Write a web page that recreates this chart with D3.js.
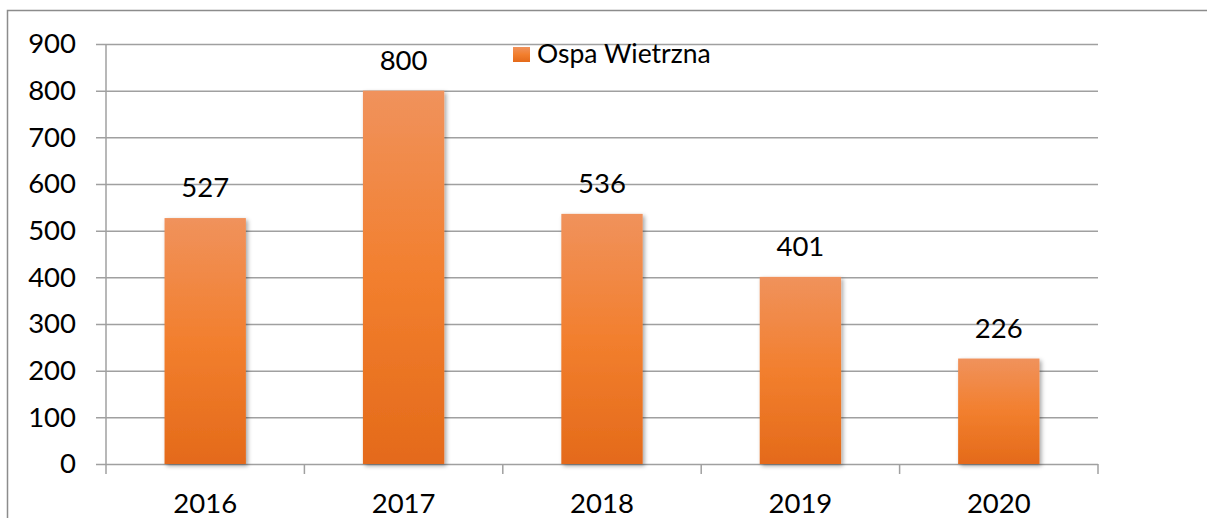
<!DOCTYPE html>
<html lang="pl">
    <head>
        <meta charset="utf-8">
        <title>Ospa Wietrzna</title>
        <script type="text/javascript" src="https://cdn.jsdelivr.net/npm/d3@7"></script>
        <style type="text/css">
            body { margin: 0; background: #fff; overflow: hidden; }
            text { font-family: Lato, "Open Sans", sans-serif; fill: #000; }
        </style>
    </head>
    <body>
        <script type="text/javascript">

            //Data
            var years = ["2016", "2017", "2018", "2019", "2020"];
            var cases = [527, 800, 536, 401, 226];
            var yTicks = [0, 100, 200, 300, 400, 500, 600, 700, 800, 900];
            var seriesName = "Ospa Wietrzna";

            //Width and height
            var w = 1207;
            var h = 518;
            var plotLeft = 106, plotRight = 1098, plotTop = 44, plotBottom = 464;

            var svg = d3.select("body")
                        .append("svg")
                        .attr("width", w)
                        .attr("height", h)
                        .style("display", "block");

            var defs = svg.append("defs");
            var grad = defs.append("linearGradient")
                .attr("id", "barGrad")
                .attr("x1", 0).attr("y1", 0).attr("x2", 0).attr("y2", 1);
            grad.append("stop").attr("offset", "0%").attr("stop-color", "#F0925C");
            grad.append("stop").attr("offset", "50%").attr("stop-color", "#F27F2E");
            grad.append("stop").attr("offset", "100%").attr("stop-color", "#E46A1A");

            var shadow = defs.append("filter")
                .attr("id", "shadow")
                .attr("x", "-20%").attr("y", "-20%")
                .attr("width", "140%").attr("height", "140%");
            shadow.append("feDropShadow")
                .attr("dx", 2).attr("dy", 2)
                .attr("stdDeviation", 2)
                .attr("flood-color", "#000")
                .attr("flood-opacity", 0.35);

            //outer frame (only top and left edges visible)
            svg.append("path")
                .attr("d", "M7.5," + h + "V10.5H" + w)
                .attr("fill", "none")
                .attr("stroke", "#8c8c8c")
                .attr("stroke-width", 1.5);

            var x = d3.scaleBand()
                      .domain(years)
                      .range([plotLeft, plotRight])
                      .paddingInner(0.59)
                      .paddingOuter(0.295);

            var y = d3.scaleLinear()
                      .domain([0, 900])
                      .range([plotBottom, plotTop]);

            //gridlines
            svg.append("g")
                .selectAll("line")
                .data(yTicks)
                .enter()
                .append("line")
                .attr("x1", plotLeft - 10)
                .attr("x2", plotRight)
                .attr("y1", function(d) { return y(d) + 0.5; })
                .attr("y2", function(d) { return y(d) + 0.5; })
                .attr("stroke", "#a0a0a0")
                .attr("stroke-width", 1.5);

            //y axis
            var yAxis = svg.append("g")
                .attr("transform", "translate(" + plotLeft + ",0)")
                .call(d3.axisLeft(y).tickValues(yTicks).tickSize(0).tickPadding(30));
            yAxis.select(".domain")
                .attr("stroke", "#a0a0a0")
                .attr("stroke-width", 1.5)
                .attr("d", "M0," + plotTop + "V" + plotBottom);
            yAxis.selectAll("text")
                .attr("font-size", "27.5px")
                .attr("font-family", "Lato, sans-serif")
                .attr("fill", "#000");

            //x axis ticks at band edges
            var edges = years.map(function(d) { return x(d) - x.step() * x.paddingInner() / 2; });
            edges.push(plotRight);
            svg.append("g")
                .selectAll("line")
                .data(edges)
                .enter()
                .append("line")
                .attr("x1", function(d) { return d; })
                .attr("x2", function(d) { return d; })
                .attr("y1", plotBottom)
                .attr("y2", plotBottom + 10)
                .attr("stroke", "#a0a0a0")
                .attr("stroke-width", 1.5);

            svg.append("g")
                .selectAll("text")
                .data(years)
                .enter()
                .append("text")
                .attr("x", function(d) { return x(d) + x.bandwidth() / 2; })
                .attr("y", 513)
                .attr("text-anchor", "middle")
                .attr("font-size", "27.5px")
                .text(function(d) { return d; });

            //bars
            svg.append("g")
                .selectAll("rect")
                .data(cases)
                .enter()
                .append("rect")
                .attr("x", function(d, i) { return x(years[i]); })
                .attr("y", function(d) { return y(d); })
                .attr("width", x.bandwidth())
                .attr("height", function(d) { return y(0) - y(d); })
                .attr("fill", "url(#barGrad)")
                .attr("filter", "url(#shadow)");

            //value labels
            svg.append("g")
                .selectAll("text")
                .data(cases)
                .enter()
                .append("text")
                .attr("x", function(d, i) { return x(years[i]) + x.bandwidth() / 2; })
                .attr("y", function(d) { return y(d) - 21; })
                .attr("text-anchor", "middle")
                .attr("font-size", "27.5px")
                .text(function(d) { return d; });

            //legend
            var legend = svg.append("g");
            legend.append("rect")
                .attr("x", 513)
                .attr("y", 47)
                .attr("width", 17)
                .attr("height", 15)
                .attr("fill", "url(#barGrad)");
            legend.append("text")
                .attr("x", 537)
                .attr("y", 63)
                .attr("font-size", "26.5px")
                .text(seriesName);

        </script>
    </body>
</html>
